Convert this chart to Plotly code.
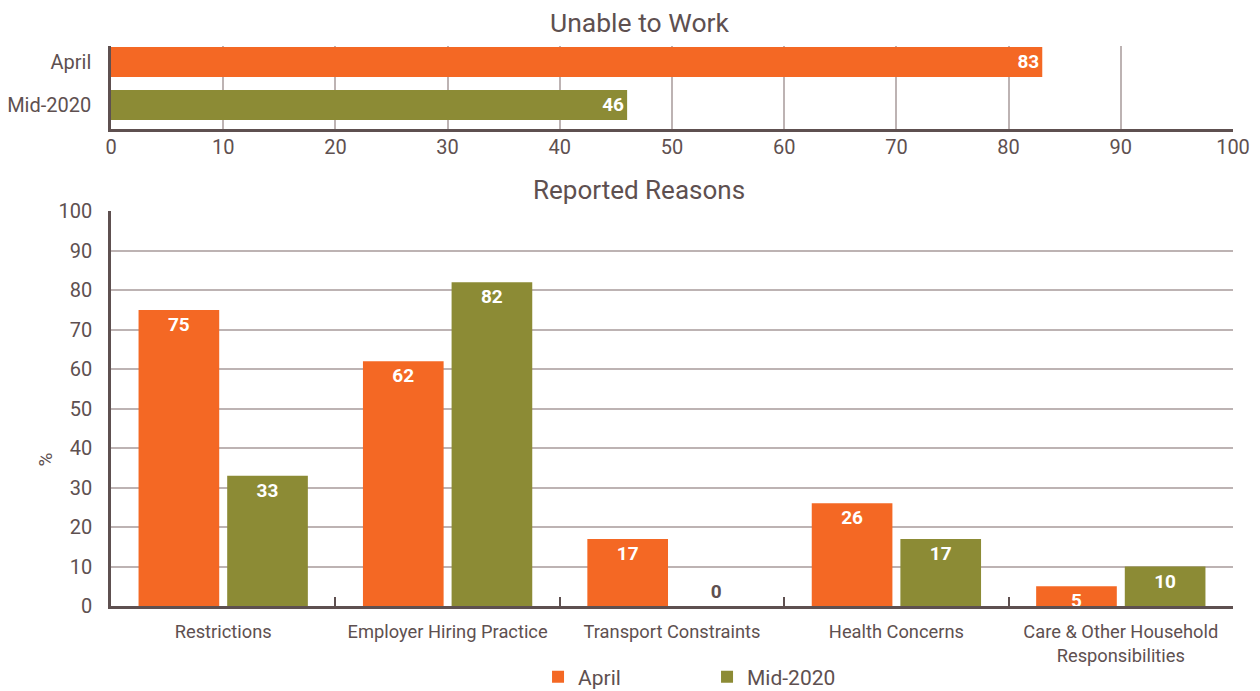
import plotly.graph_objects as go
from plotly.subplots import make_subplots

periods = ["April", "Mid-2020"]
unable_to_work = [83, 46]

reasons = ["Restrictions", "Employer Hiring Practice", "Transport Constraints",
           "Health Concerns", "Care & Other Household<br>Responsibilities"]
april_vals = [75, 62, 17, 26, 5]
mid_vals = [33, 82, 0, 17, 10]

ORANGE = "#F46824"
OLIVE = "#8C8B35"
TXT = "#5E5050"
GRID = "#BDB3B3"
AXIS = "#5E5050"
FONT = "Roboto, sans-serif"
TICK = 20

fig = make_subplots(rows=2, cols=1, vertical_spacing=0.0)

fig.add_trace(go.Bar(
    x=unable_to_work, y=periods, orientation="h",
    marker=dict(color=[ORANGE, OLIVE], line=dict(width=0)),
    width=0.70,
    text=[str(v) for v in unable_to_work], textposition="inside",
    insidetextanchor="end", textangle=0, constraintext="none",
    textfont=dict(color="white", size=19, family=FONT, weight="bold"),
    showlegend=False, hoverinfo="skip"), row=1, col=1)

def positions(vals):
    return ["outside" if v == 0 else "inside" for v in vals]

for name, vals, col in [("April", april_vals, ORANGE), ("Mid-2020", mid_vals, OLIVE)]:
    fig.add_trace(go.Bar(
        x=reasons, y=vals, name=name,
        marker=dict(color=col, line=dict(width=0)),
        text=[str(v) for v in vals], textposition=positions(vals),
        insidetextanchor="end", cliponaxis=False, textangle=0,
        constraintext="none",
        textfont=dict(color="white", size=19, family=FONT, weight="bold"),
        outsidetextfont=dict(color=TXT, size=19, family=FONT, weight="bold"),
        ), row=2, col=1)

fig.update_layout(
    width=1260, height=691,
    margin=dict(l=111, r=27, t=46, b=85, autoexpand=False),
    paper_bgcolor="white", plot_bgcolor="white",
    barmode="group", bargap=0.21, bargroupgap=0.09,
    font=dict(family=FONT, color=TXT, size=TICK),
    legend=dict(orientation="h", x=0.3806, xanchor="left", y=-0.127, yanchor="middle",
                font=dict(size=21, color=TXT), entrywidth=124),
)

fig.update_yaxes(domain=[0.852, 1.0], row=1, col=1)
fig.update_yaxes(domain=[0.0, 0.705], row=2, col=1)

fig.update_xaxes(row=1, col=1, range=[0, 100], dtick=10, tick0=0,
                 showgrid=True, gridcolor=GRID, gridwidth=1.5,
                 showline=True, linecolor=AXIS, linewidth=2.5,
                 ticks="", ticklabelstandoff=-2, zeroline=False,
                 tickfont=dict(size=TICK, color=TXT))
fig.update_yaxes(row=1, col=1, range=[1.558, -0.372], showgrid=False,
                 showline=True, linecolor=AXIS, linewidth=2.5,
                 ticks="", ticklabelstandoff=13,
                 tickfont=dict(size=TICK, color=TXT))

fig.update_xaxes(row=2, col=1, showgrid=False, showline=True,
                 linecolor=AXIS, linewidth=3, ticks="inside", tickson="boundaries",
                 ticklen=9, tickwidth=2, tickcolor=AXIS, tickangle=0,
                 tickfont=dict(size=18.3, color=TXT), ticklabelstandoff=7)
fig.update_yaxes(row=2, col=1, range=[0, 100], dtick=10, tick0=0,
                 showgrid=True, gridcolor=GRID, gridwidth=1.5,
                 showline=True, linecolor=AXIS, linewidth=2.5, zeroline=False,
                 ticks="", ticklabelstandoff=12,
                 tickfont=dict(size=TICK, color=TXT))

# y-axis unit label, placed lower than centre as in the reference
fig.add_annotation(text="%", xref="paper", yref="y2", x=-0.0704, y=37,
                   textangle=-90, showarrow=False,
                   font=dict(size=19, color=TXT, family=FONT))

fig.add_annotation(text="Unable to Work", xref="paper", yref="paper",
                   x=0.4706, y=1.0, yshift=24, yanchor="middle", showarrow=False,
                   font=dict(size=26.5, color=TXT, family=FONT))
fig.add_annotation(text="Reported Reasons", xref="paper", yref="paper",
                   x=0.4706, y=0.705, yshift=21, yanchor="middle", showarrow=False,
                   font=dict(size=26, color=TXT, family=FONT))

fig.write_html("out.html", config={"displayModeBar": False},
               post_script="document.body.style.margin='0';")
